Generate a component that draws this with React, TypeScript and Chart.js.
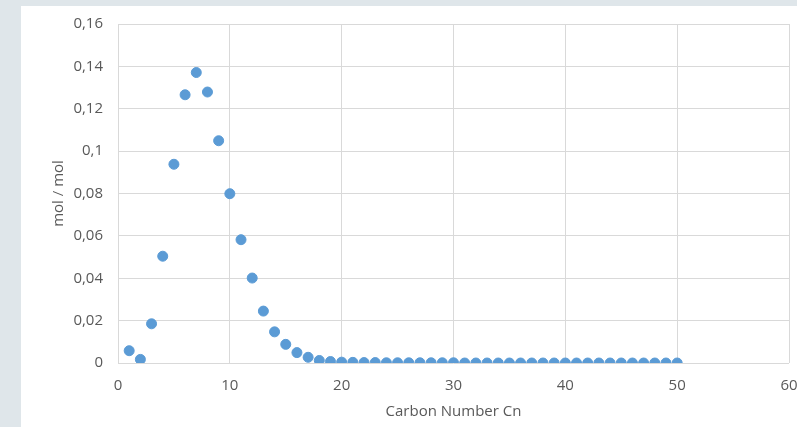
import React, { useEffect, useRef } from "react";
import { Chart, registerables } from "chart.js";

Chart.register(...registerables);

const carbonNumbers = [
  1, 2, 3, 4, 5, 6, 7, 8, 9, 10, 11, 12, 13, 14, 15, 16, 17, 18, 19, 20,
  21, 22, 23, 24, 25, 26, 27, 28, 29, 30, 31, 32, 33, 34, 35, 36, 37, 38, 39, 40,
  41, 42, 43, 44, 45, 46, 47, 48, 49, 50,
];
const molFractions = [
  0.0058, 0.0017, 0.0185, 0.0504, 0.0938, 0.1266, 0.1371, 0.1279, 0.1049, 0.0799,
  0.0582, 0.0401, 0.0245, 0.0147, 0.0088, 0.0049, 0.0027, 0.0012, 0.0007, 0.0004,
  0.0003, 0.0002, 0.0002, 0.0001, 0.0001, 0.0001, 0.0001, 0.0001, 0.0001, 0.0001,
  0.0, 0.0, 0.0, 0.0, 0.0, 0.0, 0.0, 0.0, 0.0, 0.0,
  0.0, 0.0, 0.0, 0.0, 0.0, 0.0, 0.0, 0.0, 0.0, 0.0,
];
const yTickLabels = ["0", "0,02", "0,04", "0,06", "0,08", "0,1", "0,12", "0,14", "0,16"];
const xTickLabels = ["0", "10", "20", "30", "40", "50", "60"];
const xTitle = "Carbon Number Cn";
const yTitle = "mol / mol";

export default function App() {
  const ref = useRef<HTMLCanvasElement | null>(null);

  useEffect(() => {
    document.body.style.margin = "0";
    const canvas = ref.current;
    if (!canvas) return;
    const font = { family: "'Open Sans', sans-serif", size: 15 };
    const chart = new Chart(canvas, {
      type: "scatter",
      data: {
        datasets: [
          {
            data: carbonNumbers.map((x, i) => ({ x, y: molFractions[i] })),
            backgroundColor: "#5b9bd5",
            borderColor: "#5b9bd5",
            borderWidth: 1,
            pointRadius: 5,
          },
        ],
      },
      options: {
        animation: false,
        responsive: false,
        devicePixelRatio: 1,
        layout: { padding: { left: 0, right: 8, top: 18, bottom: 0 } },
        plugins: { legend: { display: false }, tooltip: { enabled: false } },
        scales: {
          x: {
            type: "linear",
            min: 0,
            max: 60,
            afterFit: (s: any) => {
              s.height = 64;
              s.paddingLeft = 0;
              s.paddingRight = 0;
              s.paddingTop = 0;
              s.paddingBottom = 0;
            },
            ticks: {
              stepSize: 10,
              color: "#595959",
              font,
              padding: 14,
              callback: (_v: any, i: number) => xTickLabels[i],
            },
            grid: { color: "#d9d9d9", drawTicks: false, lineWidth: 1 },
            border: { display: false },
            title: {
              display: true,
              text: xTitle,
              color: "#595959",
              font,
              padding: { top: 0, bottom: 6 },
            },
          },
          y: {
            type: "linear",
            min: 0,
            max: 0.16,
            afterFit: (s: any) => {
              s.width = 97;
              s.paddingLeft = 0;
              s.paddingRight = 0;
              s.paddingTop = 0;
              s.paddingBottom = 0;
            },
            ticks: {
              stepSize: 0.02,
              color: "#595959",
              font,
              padding: 15,
              callback: (_v: any, i: number) => yTickLabels[i],
            },
            grid: { color: "#d9d9d9", drawTicks: false, lineWidth: 1 },
            border: { display: false },
            title: {
              display: true,
              text: yTitle,
              color: "#595959",
              font,
              padding: { top: 29, bottom: 0 },
            },
          },
        },
      },
    });
    return () => chart.destroy();
  }, []);

  return (
    <div
      style={{
        position: "relative",
        width: 797,
        height: 427,
        background: "#dfe6ea",
        overflow: "hidden",
      }}
    >
      <div
        style={{
          position: "absolute",
          left: 21,
          top: 6,
          width: 776,
          height: 421,
          background: "#ffffff",
        }}
      >
        <canvas ref={ref} width={776} height={421} style={{ display: "block" }} />
      </div>
    </div>
  );
}
